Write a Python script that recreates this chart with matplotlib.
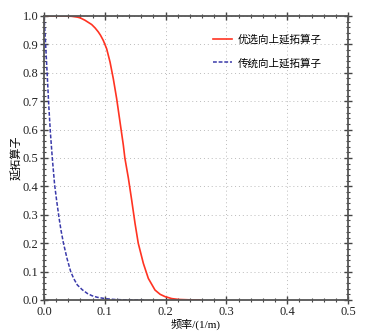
import matplotlib
matplotlib.use("Agg")
import matplotlib.pyplot as plt
from matplotlib.ticker import MultipleLocator, AutoMinorLocator

plt.rcParams['font.family'] = ['Liberation Serif', 'Noto Sans CJK SC']

# Data
freq_opt = [0.0, 0.03, 0.045, 0.055, 0.060, 0.0674, 0.0784, 0.084, 0.0893,
            0.093, 0.0975, 0.103, 0.1086, 0.114, 0.1195, 0.125, 0.1305,
            0.133, 0.1387, 0.1442, 0.1497, 0.155, 0.1634, 0.1716, 0.1826,
            0.191, 0.199, 0.21, 0.221, 0.24, 0.257]
val_opt = [1.0, 1.0, 0.999, 0.996, 0.993, 0.985, 0.970, 0.958, 0.944,
           0.932, 0.914, 0.885, 0.838, 0.779, 0.709, 0.627, 0.545,
           0.500, 0.430, 0.352, 0.270, 0.200, 0.129, 0.076, 0.035,
           0.020, 0.012, 0.005, 0.002, 0.0005, 0.0]

freq_conv = [0.0, 0.0011, 0.0033, 0.0055, 0.0077, 0.0104, 0.0137, 0.0175,
             0.0208, 0.0247, 0.028, 0.032, 0.038, 0.0439, 0.049, 0.0548,
             0.063, 0.0713, 0.079, 0.0877, 0.1014, 0.115, 0.126, 0.145, 0.165]
val_conv = [1.0, 0.962, 0.875, 0.785, 0.690, 0.593, 0.498, 0.405,
            0.350, 0.290, 0.245, 0.200, 0.145, 0.100, 0.075, 0.053,
            0.036, 0.023, 0.015, 0.0095, 0.0046, 0.002, 0.001, 0.0003, 0.0]

label_opt = '优选向上延拓算子'
label_conv = '传统向上延拓算子'
xlabel = '频率/(1/m)'
ylabel = '延拓算子'

fig = plt.figure(figsize=(3.68, 3.36), dpi=100)
ax = fig.add_axes([44/368, 36/336, 304/368, 284/336])

ax.plot(freq_opt, val_opt, color='#ff3322', lw=1.2, label=label_opt,
        solid_joinstyle='round')
ax.plot(freq_conv, val_conv, color='#3a3aaa', lw=1.1, ls=(0, (2.5, 1.2)),
        label=label_conv)

ax.set_xlim(0, 0.5)
ax.set_ylim(0, 1.0)
ax.xaxis.set_major_locator(MultipleLocator(0.1))
ax.yaxis.set_major_locator(MultipleLocator(0.1))
ax.xaxis.set_minor_locator(AutoMinorLocator(5))
ax.yaxis.set_minor_locator(AutoMinorLocator(5))
ax.set_xticklabels([f'{v:.1f}' for v in ax.get_xticks()])
ax.set_yticklabels([f'{v:.1f}' for v in ax.get_yticks()])

ax.tick_params(which='both', direction='inout', top=True, right=True,
               color='#444444', labelsize=9, labelcolor='#222222')
ax.tick_params(which='major', length=6, width=1.0, pad=1)
ax.tick_params(which='minor', length=3, width=0.8)
for s in ax.spines.values():
    s.set_color('#555555')
    s.set_linewidth(1.3)

ax.grid(True, which='major', ls=(0, (1, 3)), color='#bbbbbb', lw=0.7)

ax.set_xlabel(xlabel, fontsize=8, labelpad=1)
ax.set_ylabel(ylabel, fontsize=8, labelpad=0, family=['Noto Sans CJK SC'])

leg = ax.legend(loc='upper left', frameon=False,
                prop={'family': ['Noto Sans CJK SC'], 'size': 7.6},
                handlelength=1.8, handletextpad=0.5, labelspacing=1.25,
                borderpad=0, borderaxespad=0,
                bbox_to_anchor=(0.556, 0.937))

fig.savefig('out.png', dpi=100)
